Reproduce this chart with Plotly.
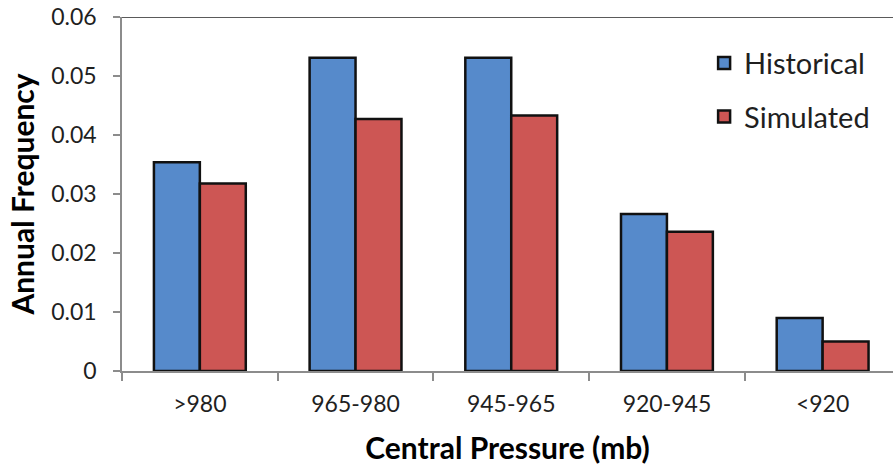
import plotly.graph_objects as go

categories = [">980", "965-980", "945-965", "920-945", "<920"]
historical = [0.0354, 0.0531, 0.0531, 0.0266, 0.0090]
simulated = [0.0318, 0.0427, 0.0433, 0.0236, 0.0050]
y_ticks = [0, 0.01, 0.02, 0.03, 0.04, 0.05, 0.06]
y_tick_labels = ["0", "0.01", "0.02", "0.03", "0.04", "0.05", "0.06"]

FONT = "Lato"
TXT = "#1f1f1f"

fig = go.Figure()
fig.add_trace(go.Bar(name="Historical", x=categories, y=historical,
                     marker=dict(color="#568ACB", line=dict(color="#111111", width=2.5)),
                     legendgroup="h"))
fig.add_trace(go.Bar(name="Simulated", x=categories, y=simulated,
                     marker=dict(color="#CD5654", line=dict(color="#111111", width=2.5)),
                     legendgroup="s"))

fig.update_layout(
    width=893, height=468,
    margin=dict(l=122, r=0, t=17, b=97),
    paper_bgcolor="white", plot_bgcolor="white",
    barmode="group", bargap=0.41, bargroupgap=0,
    font=dict(family=FONT, color=TXT),
    legend=dict(x=0.755, y=0.942, xanchor="left", yanchor="top",
                font=dict(size=29, family=FONT, color=TXT),
                tracegroupgap=13, bgcolor="rgba(0,0,0,0)"),
    xaxis=dict(range=[-0.5, 4.452], showline=True, linecolor="#8c8c8c", linewidth=1.5,
               ticks="outside", tickson="boundaries", ticklen=8, tickcolor="#8c8c8c", tickwidth=1.5,
               tickfont=dict(size=23, family=FONT, color=TXT), ticklabelstandoff=12,
               title=dict(text="<b>Central Pressure (mb)</b>", font=dict(size=30, family=FONT, color="#000"),
                          standoff=22),
               showgrid=False, zeroline=False),
    yaxis=dict(range=[0, 0.06], tickvals=y_ticks, ticktext=y_tick_labels,
               showline=True, linecolor="#8c8c8c", linewidth=1.5,
               ticks="outside", ticklen=7, tickcolor="#8c8c8c", tickwidth=1.5,
               tickfont=dict(size=23, family=FONT, color=TXT), ticklabelstandoff=12,
               title=dict(text="<b>Annual Frequency</b>", font=dict(size=30, family=FONT, color="#000"),
                          standoff=8),
               showgrid=False, zeroline=False),
)
fig.add_shape(type="line", xref="paper", yref="y", x0=0, x1=1, y0=y_ticks[-1], y1=y_ticks[-1],
              line=dict(color="#5a5a5a", width=2))

fig.write_html("out.html")
